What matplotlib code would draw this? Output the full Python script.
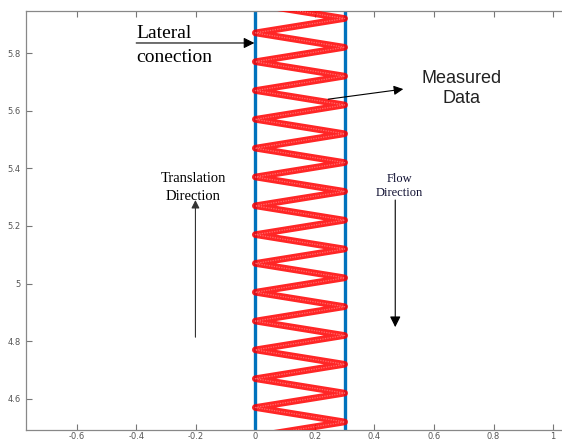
import matplotlib
matplotlib.use('Agg')
import matplotlib.pyplot as plt

# zigzag vertices of the measured track (x, y)
zig_x = [0.0, 0.3, 0.0, 0.3, 0.0, 0.3, 0.0, 0.3, 0.0, 0.3, 0.0, 0.3, 0.0, 0.3, 0.0, 0.3,
         0.0, 0.3, 0.0, 0.3, 0.0, 0.3, 0.0, 0.3, 0.0, 0.3, 0.0, 0.3, 0.0, 0.3, 0.0]
zig_y = [5.97, 5.92, 5.87, 5.82, 5.77, 5.72, 5.67, 5.62, 5.57, 5.52, 5.47, 5.42, 5.37, 5.32,
         5.27, 5.22, 5.17, 5.12, 5.07, 5.02, 4.97, 4.92, 4.87, 4.82, 4.77, 4.72, 4.67, 4.62,
         4.57, 4.52, 4.47]

# boundary lines
bound_x = [0.0, 0.3]
bound_y = [4.40, 6.00]

x_ticks = [-0.6, -0.4, -0.2, 0, 0.2, 0.4, 0.6, 0.8, 1]
x_tick_labels = ['-0.6', '-0.4', '-0.2', '0', '0.2', '0.4', '0.6', '0.8', '1']
y_ticks = [4.6, 4.8, 5.0, 5.2, 5.4, 5.6, 5.8]
y_tick_labels = ['4.6', '4.8', '5', '5.2', '5.4', '5.6', '5.8']

fig = plt.figure(figsize=(5.62, 4.41), dpi=100)
ax = fig.add_axes([26 / 562, 11 / 441, 536 / 562, 419 / 441])

for bx in bound_x:
    ax.plot([bx, bx], bound_y, color='#0072BD', lw=2.4, zorder=2)
ax.plot(zig_x, zig_y, color='red', lw=4.8, alpha=0.85, zorder=3,
        solid_joinstyle='round')
ax.plot(zig_x, zig_y, color='#ff9a9a', lw=0.9, alpha=0.6, zorder=4, ls=(0, (1, 1)))

ax.set_xlim(-0.77, 1.03)
ax.set_ylim(4.492, 5.946)
ax.set_xticks(x_ticks)
ax.set_xticklabels(x_tick_labels)
ax.set_yticks(y_ticks)
ax.set_yticklabels(y_tick_labels)
ax.tick_params(direction='in', length=4, width=0.8, colors='#777777',
               labelsize=6, labelcolor='#555555', top=True, pad=4)
ax.tick_params(axis='x', pad=1.5)
for side in ['left', 'bottom', 'top']:
    ax.spines[side].set_color('#888888')
    ax.spines[side].set_linewidth(0.9)
ax.spines['right'].set_visible(False)

serif = 'Liberation Serif'
sans = 'Liberation Sans'

# Lateral conection
ax.text(-0.40, 5.869, 'Lateral', fontsize=14, family=serif, va='center', ha='left')
ax.text(-0.40, 5.786, 'conection', fontsize=14, family=serif, va='center', ha='left')
ax.annotate('', xy=(-0.003, 5.835), xytext=(-0.40, 5.835),
            arrowprops=dict(arrowstyle='-|>', mutation_scale=16, lw=0.8, color='black',
                            shrinkA=0, shrinkB=0))

# Measured Data
ax.text(0.692, 5.713, 'Measured', fontsize=13, family=sans, va='center', ha='center',
        color='#222222')
ax.text(0.692, 5.644, 'Data', fontsize=13, family=sans, va='center', ha='center',
        color='#222222')
ax.annotate('', xy=(0.497, 5.675), xytext=(0.245, 5.64),
            arrowprops=dict(arrowstyle='-|>', mutation_scale=14, lw=0.8, color='black',
                            shrinkA=0, shrinkB=0))

# Translation Direction
ax.text(-0.208, 5.365, 'Translation', fontsize=10.5, family=serif, va='center', ha='center')
ax.text(-0.208, 5.303, 'Direction', fontsize=10.5, family=serif, va='center', ha='center')
ax.annotate('', xy=(-0.201, 5.29), xytext=(-0.201, 4.814),
            arrowprops=dict(arrowstyle='-|>', mutation_scale=12, lw=0.8, color='#333333',
                            shrinkA=0, shrinkB=0))

# Flow Direction
ax.text(0.484, 5.3625, 'Flow', fontsize=9, family=serif, va='center', ha='center',
        color='#111133')
ax.text(0.484, 5.314, 'Direction', fontsize=9, family=serif, va='center', ha='center',
        color='#111133')
ax.annotate('', xy=(0.470, 4.849), xytext=(0.470, 5.29),
            arrowprops=dict(arrowstyle='-|>', mutation_scale=16, lw=0.8, color='black',
                            shrinkA=0, shrinkB=0))

fig.savefig('out.png', dpi=100)
